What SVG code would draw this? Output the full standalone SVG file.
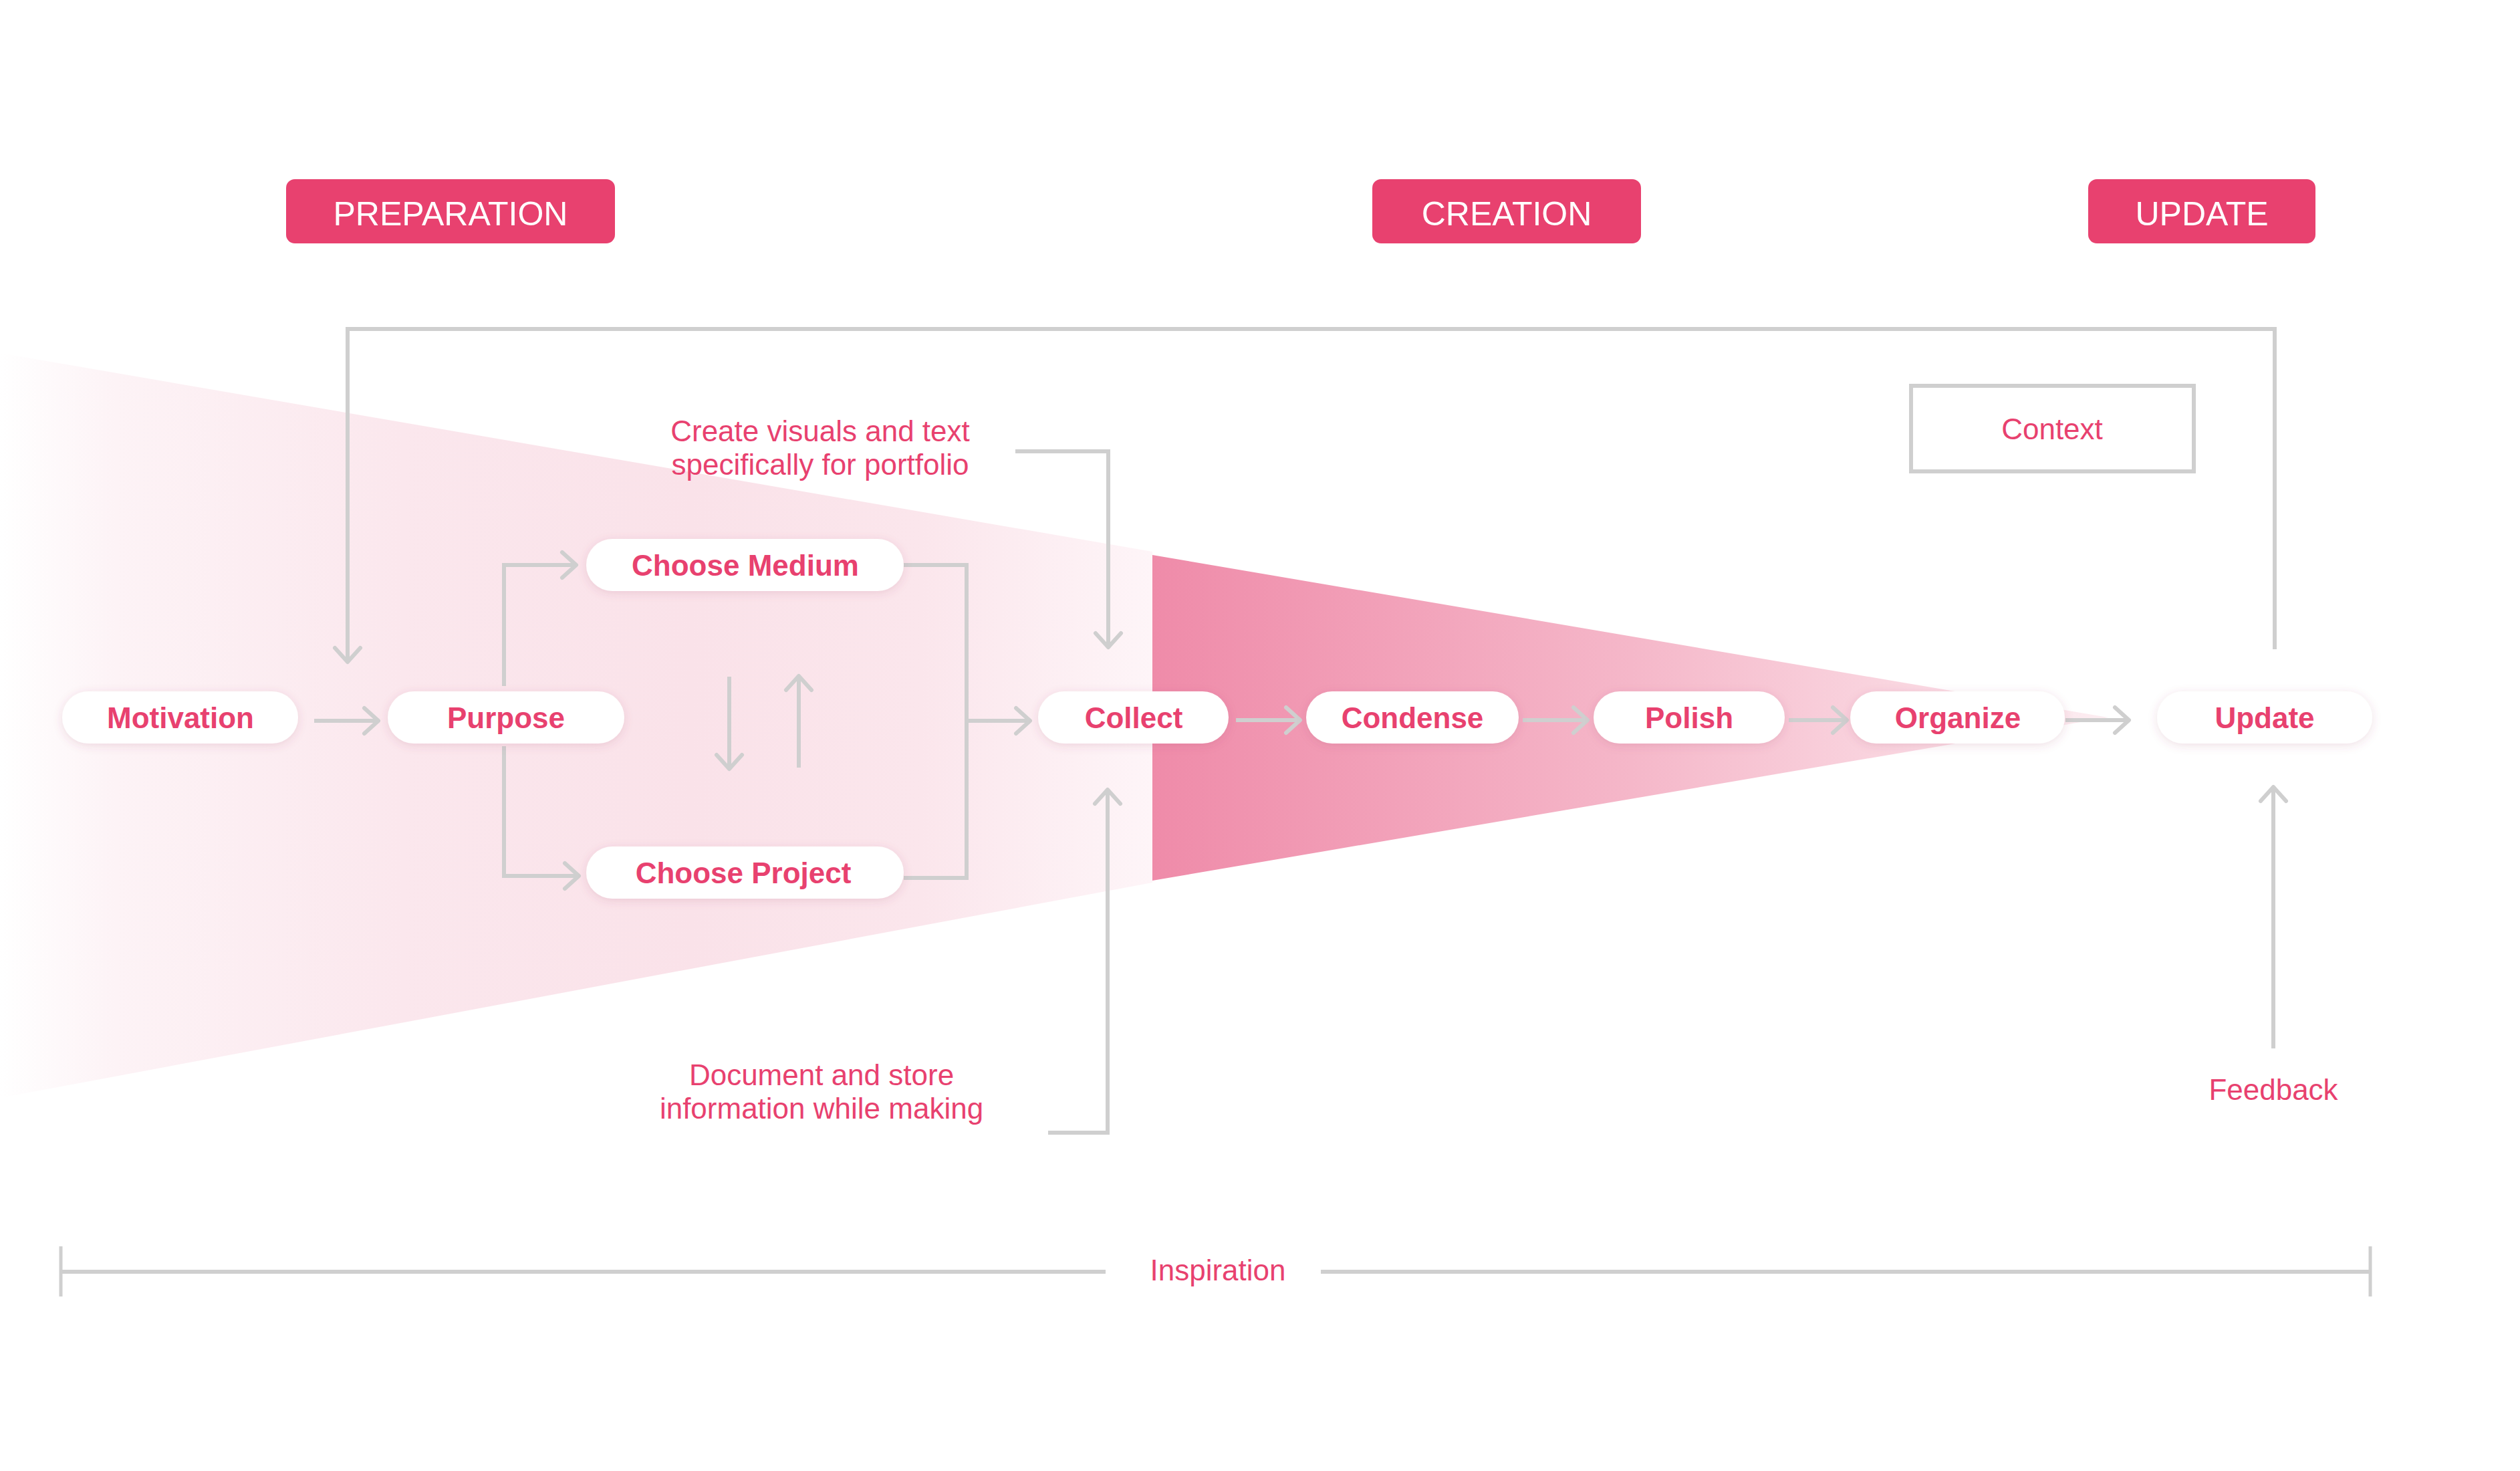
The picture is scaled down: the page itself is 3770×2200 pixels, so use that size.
<svg xmlns="http://www.w3.org/2000/svg" width="3770" height="2200" viewBox="0 0 3770 2200">
<defs>
<style>
.hdr{fill:#E8416F}
.hdrt{font-family:"Liberation Sans",Arial,sans-serif;font-size:50px;fill:#ffffff;text-anchor:middle}
.pill{fill:#ffffff;filter:url(#sh)}
.nt{font-family:"Liberation Sans",Arial,sans-serif;font-size:44px;font-weight:bold;fill:#E8416F;text-anchor:middle}
.ann{font-family:"Liberation Sans",Arial,sans-serif;font-size:44px;fill:#E8416F;text-anchor:middle}
.con{fill:none;stroke:#CFCFCF;stroke-width:6}
.arr{marker-end:url(#ah)}
</style>
<marker id="ah" markerUnits="userSpaceOnUse" viewBox="-30 -25 36 50" markerWidth="36" markerHeight="50" refX="0" refY="0" orient="auto" overflow="visible">
<path d="M-21,-19 L0,0 L-21,19" fill="none" stroke="#CFCFCF" stroke-width="6" stroke-linecap="round" stroke-linejoin="round"/>
</marker>
<filter id="sh" x="-20%" y="-40%" width="140%" height="180%">
<feDropShadow dx="0" dy="3" stdDeviation="7" flood-color="#A04060" flood-opacity="0.16"/>
</filter>
<linearGradient id="gl" gradientUnits="userSpaceOnUse" x1="0" y1="0" x2="1724" y2="0">
<stop offset="0" stop-color="#FFFFFF"/>
<stop offset="0.1" stop-color="#FDF3F6"/>
<stop offset="0.35" stop-color="#FBE7ED"/>
<stop offset="0.6" stop-color="#FAE2E9"/>
<stop offset="0.8" stop-color="#FBE6EC"/>
<stop offset="1" stop-color="#FEF5F8"/>
</linearGradient>
<linearGradient id="gd" gradientUnits="userSpaceOnUse" x1="1724" y1="0" x2="3154" y2="0">
<stop offset="0" stop-color="#EF8BA9"/>
<stop offset="0.5" stop-color="#F5B7C9"/>
<stop offset="1" stop-color="#FDEEF2"/>
</linearGradient>
</defs>
<rect width="3770" height="2200" fill="#ffffff"/>

<g id="background">
<polygon points="0,528 1724,825 1724,1320 0,1642" fill="url(#gl)"/>
<polygon points="1724,830 3154,1073 1724,1317" fill="url(#gd)"/>
</g>

<g id="headers">
<g id="preparation"><rect class="hdr" x="428" y="268" width="492" height="96" rx="13"/><text class="hdrt" x="674" y="337">PREPARATION</text></g>
<g id="creation"><rect class="hdr" x="2053" y="268" width="402" height="96" rx="13"/><text class="hdrt" x="2254" y="337">CREATION</text></g>
<g id="update-hdr"><rect class="hdr" x="3124" y="268" width="340" height="96" rx="13"/><text class="hdrt" x="3294" y="337">UPDATE</text></g>
</g>

<g id="connectors">
<path class="con" d="M3403,971 V492 H520 V990" style="marker-end:url(#ah)"/>
<path class="con arr" d="M1519,675 H1658 V968"/>
<path class="con arr" d="M1568,1694 H1657 V1181"/>
<path class="con arr" d="M3401,1568 V1177"/>
<path class="con arr" d="M470,1078 H566"/>
<path class="con arr" d="M754,1026 V845 H862"/>
<path class="con arr" d="M754,1116 V1310 H866"/>
<path class="con arr" d="M1091,1012 V1150"/>
<path class="con arr" d="M1195,1148 V1011"/>
<path class="con" d="M1352,845 H1446 V1313 H1352"/>
<path class="con arr" d="M1446,1078 H1541"/>
<path class="con arr" d="M1849,1077 H1945"/>
<path class="con arr" d="M2278,1077 H2375"/>
<path class="con arr" d="M2676,1077 H2763"/>
<path class="con arr" d="M3090,1077 H3185"/>
<path class="con" d="M91,1902 H1654 M1976,1902 H3546"/>
<path class="con" style="stroke-width:5" d="M91,1864 V1939 M3546,1864 V1939"/>
</g>

<g id="context"><rect x="2859" y="577" width="423" height="128" fill="#ffffff" stroke="#CFCFCF" stroke-width="6"/><text class="ann" x="3070" y="657">Context</text></g>

<g id="n-motivation"><rect class="pill" x="93" y="1034" width="353" height="78" rx="39"/><text class="nt" x="270" y="1089">Motivation</text></g>
<g id="n-purpose"><rect class="pill" x="580" y="1034" width="354" height="78" rx="39"/><text class="nt" x="757" y="1089">Purpose</text></g>
<g id="n-medium"><rect class="pill" x="877" y="806" width="475" height="78" rx="39"/><text class="nt" x="1115" y="861">Choose Medium</text></g>
<g id="n-project"><rect class="pill" x="877" y="1266" width="475" height="78" rx="39"/><text class="nt" x="1112" y="1321">Choose Project</text></g>
<g id="n-collect"><rect class="pill" x="1553" y="1034" width="285" height="78" rx="39"/><text class="nt" x="1696" y="1089">Collect</text></g>
<g id="n-condense"><rect class="pill" x="1954" y="1034" width="318" height="78" rx="39"/><text class="nt" x="2113" y="1089">Condense</text></g>
<g id="n-polish"><rect class="pill" x="2384" y="1034" width="286" height="78" rx="39"/><text class="nt" x="2527" y="1089">Polish</text></g>
<g id="n-organize"><rect class="pill" x="2768" y="1034" width="321" height="78" rx="39"/><text class="nt" x="2929" y="1089">Organize</text></g>
<g id="n-update"><rect class="pill" x="3227" y="1034" width="322" height="78" rx="39"/><text class="nt" x="3388" y="1089">Update</text></g>

<g id="labels">
<text class="ann" x="1227" y="660">Create visuals and text</text>
<text class="ann" x="1227" y="710">specifically for portfolio</text>
<text class="ann" x="1229" y="1623">Document and store</text>
<text class="ann" x="1229" y="1673">information while making</text>
<text class="ann" x="3401" y="1645">Feedback</text>
<text class="ann" x="1822" y="1915">Inspiration</text>
</g>
</svg>
